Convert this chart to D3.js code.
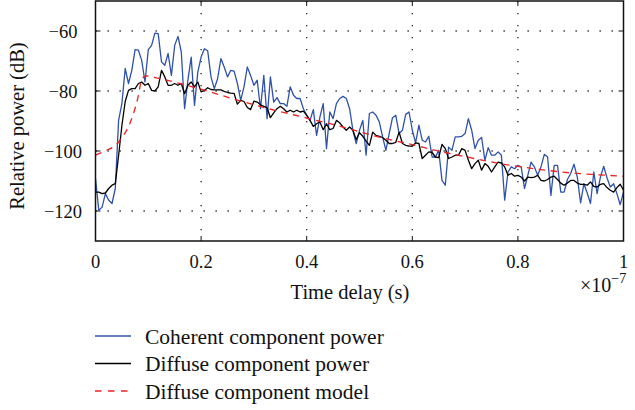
<!DOCTYPE html>
<html>
<head>
<meta charset="utf-8">
<script src="https://cdn.jsdelivr.net/npm/d3@7/dist/d3.min.js"></script>
<style>
  body { margin: 0; background: #fff; }
  svg text { font-family: "Liberation Serif", "Times New Roman", serif; fill: #111; }
</style>
</head>
<body>
<div id="viz"></div>
<script>
// sample spacing of the measured profiles (ns), 0..100 ns
var dtNs = 0.625;

var coherentPower = [
  -109.2, -119.8, -118.7, -114.2, -116.4, -117.5, -112.5, -89.8, -84.2, -72.5,
  -77.5, -73.1, -66.2, -66.4, -69.8, -77.0, -66.2, -64.8, -60.7, -60.9,
  -70.3, -71.4, -67.5, -74.8, -64.8, -61.8, -67.0, -85.9, -76.4, -68.7,
  -84.8, -73.7, -68.7, -65.9, -66.6, -75.3, -79.2, -75.9, -69.2, -72.0,
  -75.3, -73.1, -73.4, -77.5, -83.1, -78.6, -72.0, -74.8, -78.1, -76.4,
  -85.9, -74.8, -89.2, -75.3, -83.7, -82.2, -84.2, -84.2, -85.1, -78.6,
  -81.4, -82.5, -82.5, -85.9, -88.0, -89.8, -86.2, -94.8, -88.7, -84.2,
  -99.2, -87.0, -89.2, -84.2, -82.5, -81.8, -82.5, -85.9, -93.1, -97.5,
  -93.1, -89.8, -101.4, -87.5, -87.0, -88.1, -90.3, -95.3, -99.8, -94.2,
  -88.9, -88.1, -94.2, -93.1, -87.8, -87.0, -93.0, -97.3, -91.4, -96.4,
  -97.0, -95.1, -102.0, -102.0, -99.8, -109.8, -111.4, -98.7, -99.8, -95.3,
  -95.3, -95.1, -94.2, -89.2, -93.1, -99.2, -96.4, -95.5, -103.1, -98.9,
  -101.4, -101.4, -100.3, -101.4, -116.4, -107.0, -105.3, -105.9, -104.8, -105.3,
  -112.5, -108.1, -103.7, -105.3, -108.1, -105.3, -101.1, -102.0, -114.8, -104.8,
  -104.8, -113.7, -113.7, -109.5, -107.5, -104.4, -108.7, -117.3, -110.9, -114.0,
  -117.5, -107.0, -114.2, -108.7, -105.1, -108.9, -112.0, -110.9, -114.2, -117.9,
  -113.7
];

var diffusePower = [
  -113.7, -113.7, -114.2, -114.0, -112.5, -111.4, -110.9, -101.5, -91.5, -83.5,
  -79.8, -79.2, -79.2, -77.5, -77.0, -78.1, -77.5, -79.8, -80.0, -78.6,
  -73.1, -75.3, -78.1, -78.1, -77.5, -78.1, -77.5, -80.9, -78.1, -77.0,
  -78.6, -77.0, -80.3, -79.8, -78.9, -79.5, -79.6, -79.6, -79.6, -80.1,
  -80.5, -80.7, -80.8, -84.4, -83.1, -83.5, -85.5, -86.2, -83.4, -83.7,
  -84.6, -85.1, -85.6, -88.9, -87.3, -85.9, -85.1, -85.9, -87.0, -86.4,
  -87.0, -86.4, -87.0, -86.7, -88.1, -89.8, -91.8, -90.9, -90.3, -92.9,
  -90.9, -92.9, -92.5, -89.8, -90.6, -92.0, -93.1, -92.0, -93.1, -96.2,
  -93.9, -95.1, -96.7, -98.1, -93.7, -94.8, -95.1, -95.5, -96.4, -97.5,
  -97.5, -97.1, -93.7, -97.5, -98.1, -98.4, -98.4, -97.3, -97.5, -102.5,
  -101.4, -100.3, -100.5, -102.0, -102.2, -97.8, -99.2, -102.5, -102.0, -101.4,
  -101.4, -99.2, -99.8, -103.1, -105.9, -104.2, -103.1, -106.4, -104.2, -105.1,
  -107.0, -105.3, -103.7, -104.0, -105.3, -108.1, -107.5, -108.4, -108.1, -108.7,
  -110.0, -108.7, -108.9, -108.7, -108.1, -109.8, -110.0, -109.5, -108.7, -108.4,
  -109.5, -110.7, -111.4, -110.7, -109.8, -109.8, -110.7, -111.1, -111.1, -111.4,
  -110.3, -111.8, -112.0, -111.1, -110.9, -112.2, -113.1, -113.7, -112.2, -111.1,
  -113.1
];

var modelTimeNs = [0, 2, 4, 5, 6, 7, 8, 8.8, 9.6, 12, 16, 20, 27, 33, 40, 46, 52, 60, 66, 72, 78, 84, 90, 95, 100];
var modelPower = [-101.4, -99.8, -97.8, -95.5, -92.8, -88.5, -82.5, -76, -75, -75.8, -77.5, -79.4,
  -83.1, -86, -89, -91.6, -94.6, -97.9, -100.4, -102.6, -104.6, -106.1, -107.3, -107.9, -108.4];

var xTicks = [0, 0.2, 0.4, 0.6, 0.8, 1];
var yTicks = [-60, -80, -100, -120];
var legendLabels = ["Coherent component power", "Diffuse component power", "Diffuse component model"];

var W = 635, H = 410;
var svg = d3.select("#viz").append("svg").attr("width", W).attr("height", H);

// x in units of 1e-7 s
var x = d3.scaleLinear().domain([0, 1]).range([95.5, 623.5]);
var y = d3.scaleLinear().domain([-130, -50]).range([241, 1]);

var fmt = function(d) { return d < 0 ? "\u2212" + Math.abs(d) : String(d); };

// dotted grid
svg.append("g").selectAll("line").data(xTicks.slice(1, -1)).enter().append("line")
  .attr("x1", function(d){ return x(d); }).attr("x2", function(d){ return x(d); })
  .attr("y1", y(-50)).attr("y2", y(-130))
  .attr("stroke", "#222").attr("stroke-width", 1.3).attr("stroke-dasharray", "1.3,10.7");
svg.append("g").selectAll("line").data(yTicks).enter().append("line")
  .attr("x1", x(0)).attr("x2", x(1))
  .attr("y1", function(d){ return y(d); }).attr("y2", function(d){ return y(d); })
  .attr("stroke", "#222").attr("stroke-width", 1.3).attr("stroke-dasharray", "1.3,10.7");

// inward ticks on all sides
var tk = svg.append("g").attr("stroke", "#111").attr("stroke-width", 1);
xTicks.forEach(function(d) {
  tk.append("line").attr("x1", x(d)).attr("x2", x(d)).attr("y1", y(-130)).attr("y2", y(-130) - 5);
  tk.append("line").attr("x1", x(d)).attr("x2", x(d)).attr("y1", y(-50)).attr("y2", y(-50) + 5);
});
yTicks.forEach(function(d) {
  tk.append("line").attr("x1", x(0)).attr("x2", x(0) + 5).attr("y1", y(d)).attr("y2", y(d));
  tk.append("line").attr("x1", x(1)).attr("x2", x(1) - 5).attr("y1", y(d)).attr("y2", y(d));
});

// series
svg.append("defs").append("clipPath").attr("id", "plotclip")
  .append("rect").attr("x", x(0)).attr("y", y(-50)).attr("width", x(1) - x(0)).attr("height", y(-130) - y(-50));
var plot = svg.append("g").attr("clip-path", "url(#plotclip)");

var lineIdx = d3.line()
  .x(function(d, i){ return x(i * dtNs / 100); })
  .y(function(d){ return y(d); });

plot.append("path").datum(coherentPower).attr("d", lineIdx)
  .attr("fill", "none").attr("stroke", "#2f52a8").attr("stroke-width", 1.3).attr("stroke-linejoin", "round");
plot.append("path").datum(diffusePower).attr("d", lineIdx)
  .attr("fill", "none").attr("stroke", "#000").attr("stroke-width", 1.3).attr("stroke-linejoin", "round");

var lineModel = d3.line()
  .x(function(d, i){ return x(modelTimeNs[i] / 100); })
  .y(function(d){ return y(d); })
  .curve(d3.curveMonotoneX);
plot.append("path").datum(modelPower).attr("d", lineModel)
  .attr("fill", "none").attr("stroke", "#ee2222").attr("stroke-width", 1.3).attr("stroke-dasharray", "6.5,5.5");

// frame
svg.append("rect").attr("x", x(0)).attr("y", y(-50)).attr("width", x(1) - x(0)).attr("height", y(-130) - y(-50))
  .attr("fill", "none").attr("stroke", "#111").attr("stroke-width", 1.5);

// tick labels
svg.append("g").selectAll("text").data(yTicks).enter().append("text")
  .attr("x", 63).attr("y", function(d){ return y(d) + 6.5; })
  .attr("text-anchor", "middle").style("font-size", "18.5px")
  .text(fmt);
svg.append("g").selectAll("text").data(xTicks).enter().append("text")
  .attr("x", function(d){ return x(d); }).attr("y", 268)
  .attr("text-anchor", "middle").style("font-size", "18.5px")
  .text(function(d){ return String(d); });

// exponent
var ex = svg.append("text").attr("x", 580).attr("y", 292).style("font-size", "20px");
ex.append("tspan").text("\u00d710");
ex.append("tspan").attr("dy", -9).style("font-size", "14px").text("\u22127");

// axis labels
svg.append("text").attr("x", 350).attr("y", 298.5).attr("text-anchor", "middle")
  .style("font-size", "20.5px").text("Time delay (s)");
svg.append("text").attr("transform", "translate(24,126) rotate(-90)").attr("text-anchor", "middle")
  .style("font-size", "20.5px").text("Relative power (dB)");

// legend
var legColors = ["#2f52a8", "#000", "#ee2222"];
var legY = [336, 363.5, 391];
var leg = svg.append("g").selectAll("g").data(legendLabels).enter().append("g");
leg.append("line")
  .attr("x1", 95).attr("x2", 131)
  .attr("y1", function(d, i){ return legY[i]; }).attr("y2", function(d, i){ return legY[i]; })
  .attr("stroke", function(d, i){ return legColors[i]; }).attr("stroke-width", 1.3)
  .attr("stroke-dasharray", function(d, i){ return i === 2 ? "6.5,6.5" : null; });
leg.append("text")
  .attr("x", 145).attr("y", function(d, i){ return legY[i] + 7.5; })
  .style("font-size", "21.5px")
  .text(function(d){ return d; });
</script>
</body>
</html>
